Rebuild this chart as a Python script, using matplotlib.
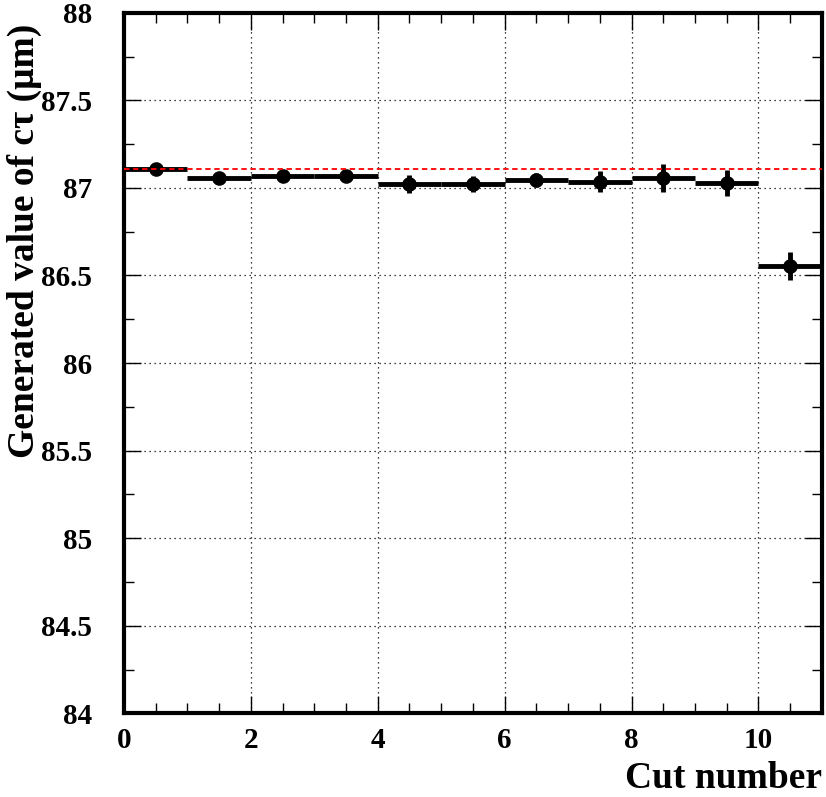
import numpy as np
import matplotlib.pyplot as plt
from matplotlib.ticker import MultipleLocator

plt.rcParams['font.family'] = ['Liberation Serif', 'DejaVu Serif']
plt.rcParams['font.weight'] = 'bold'

# generated c*tau per cut bin
bin_edges = np.arange(0, 12, 1)
ctau = [87.11, 87.057, 87.066, 87.067, 87.022, 87.021, 87.044, 87.035, 87.058, 87.029, 86.556]
ctau_err = [0.015, 0.03, 0.035, 0.03, 0.05, 0.045, 0.04, 0.06, 0.08, 0.075, 0.08]
reference = 87.11

fig = plt.figure(figsize=(8.26, 7.97), dpi=100)
ax = fig.add_axes([0.150, 0.105, 0.845, 0.879])

centers = 0.5 * (bin_edges[:-1] + bin_edges[1:])
half = 0.5 * np.diff(bin_edges)

ax.errorbar(centers, ctau, xerr=half, yerr=ctau_err, fmt='o', color='black',
            ms=9.5, elinewidth=3.5, capsize=0, zorder=4)
# reference value drawn over the points
ax.axhline(reference, color='red', ls=(0, (3, 2)), lw=1.3, zorder=5)

ax.set_xlim(0, 11)
ax.set_ylim(84, 88)
ax.xaxis.set_major_locator(MultipleLocator(2))
ax.xaxis.set_minor_locator(MultipleLocator(0.5))
ax.yaxis.set_minor_locator(MultipleLocator(0.25))
ax.set_yticks(np.arange(84, 88.01, 0.5))
ax.set_yticklabels(['84', '84.5', '85', '85.5', '86', '86.5', '87', '87.5', '88'])

ax.grid(True, which='major', color='black', ls=(0, (1, 3)), lw=0.9)
ax.tick_params(which='both', direction='in', top=True, right=True, labelsize=21)
ax.tick_params(which='major', length=12, width=1)
ax.tick_params(which='minor', length=7, width=1)
ax.tick_params(axis='x', pad=10)
ax.tick_params(axis='y', pad=23)
for lab in ax.get_xticklabels() + ax.get_yticklabels():
    lab.set_fontweight('bold')
for s in ax.spines.values():
    s.set_linewidth(3)

ax.set_xlabel('Cut number', fontsize=27, fontweight='bold', loc='right', labelpad=4)
ax.xaxis.set_label_coords(1.0, -0.068)
ax.set_ylabel('Generated value of c\u03c4 (\u03bcm)', fontsize=27, fontweight='bold',
              loc='top', labelpad=2)
ax.yaxis.set_label_coords(-0.118, 0.985)

fig.savefig('out.png', dpi=100)
